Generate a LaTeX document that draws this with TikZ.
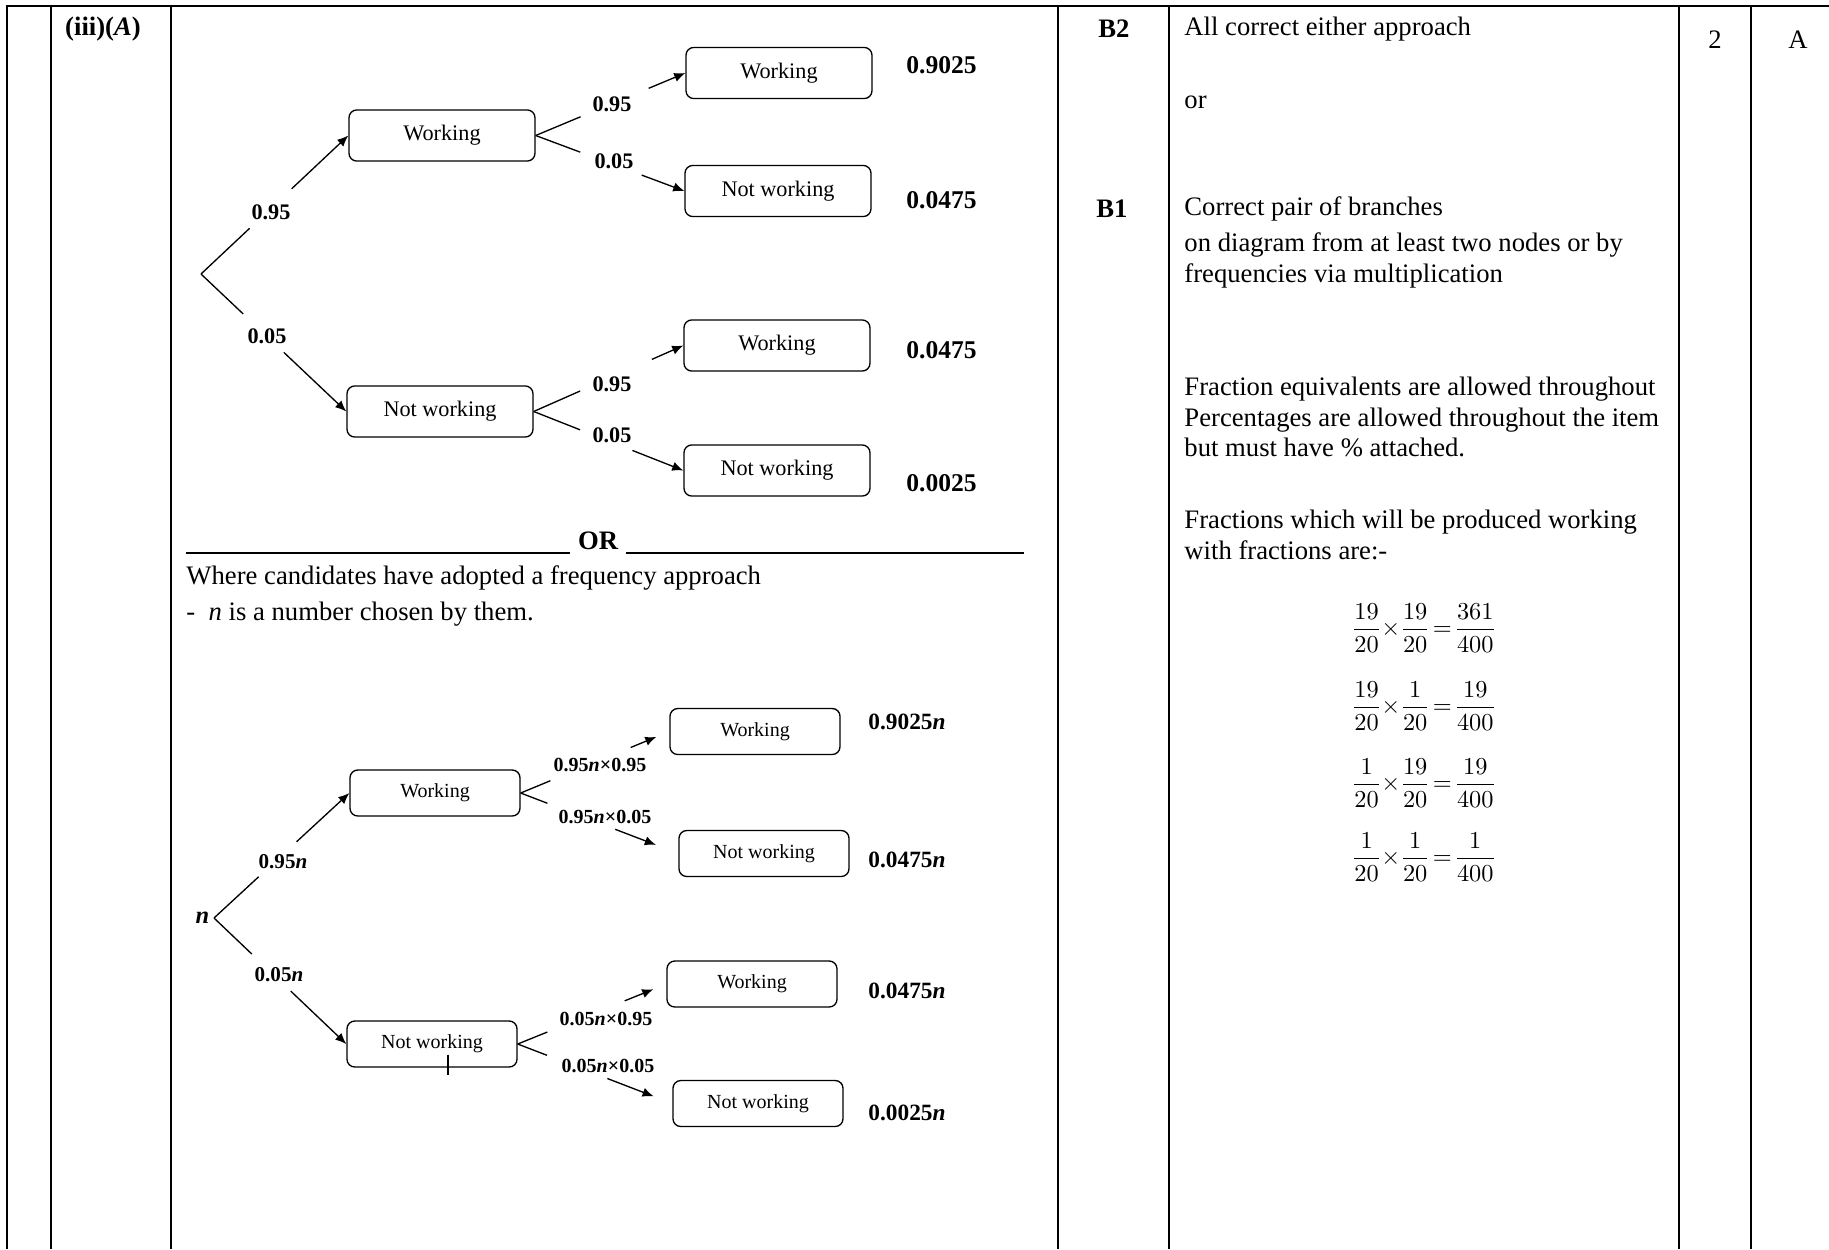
\documentclass[tikz,border=0pt]{standalone}
\usepackage{amsmath}
\usepackage{fontspec}
\setmainfont{Liberation Serif}
\usepackage{tikz}
\usetikzlibrary{arrows.meta,calc}

\begin{document}
\begin{tikzpicture}[
  x=0.45pt, y=-0.45pt,
  font=\fontsize{12}{13.8}\selectfont,
  rule/.style={line width=0.9pt},
  box/.style={draw, rounded corners=3.5pt, line width=0.6pt, minimum width=83.7pt, minimum height=23pt, inner sep=0pt, font=\fontsize{10}{12}\selectfont},
  sbox/.style={box, minimum width=76.5pt, minimum height=20.7pt, font=\fontsize{9}{11}\selectfont},
  prob/.style={inner sep=1pt, font=\fontsize{10}{12}\selectfont\bfseries},
  sprob/.style={inner sep=1pt, font=\fontsize{9}{11}\selectfont\bfseries},
  res/.style={anchor=west, inner sep=0pt, font=\fontsize{11.5}{13}\selectfont\bfseries},
  sres/.style={res, font=\fontsize{10.5}{12}\selectfont\bfseries},
  txt/.style={anchor=west, inner sep=0pt, align=left},
  br/.style={line width=0.6pt},
  arr/.style={br, -{Latex[length=5pt,width=4.2pt]}}
]
  \useasboundingbox (0,0) rectangle (1829,1249);

  % table rules
  \draw[rule] (6,6) -- (1829,6);
  \foreach \cx in {7,51,171,1058,1169,1679,1751}
    \draw[rule] (\cx,6) -- (\cx,1249);

  \node (part) at (103,29) {\textbf{(iii)(\textit{A})}};
  \node (b2) at (1114,29) {\textbf{B2}};
  \node (b1) at (1112,209) {\textbf{B1}};
  \node (mk) at (1715,40) {2};
  \node (ao) at (1798,40) {A};

  % guidance column
  \node[txt] (t1) at (1184,29) {All correct either approach};
  \node[txt] (t2) at (1184,102) {or};
  \node[txt] (t3) at (1184,209) {Correct pair of branches};
  \node[txt] (t4) at (1184,260.5) {on diagram from at least two nodes or by\\frequencies via multiplication};
  \node[txt] (t5) at (1184,417) {Fraction equivalents are allowed throughout\\Percentages are allowed throughout the item\\but must have \% attached.};
  \node[txt] (t6) at (1184,535) {Fractions which will be produced working\\with fractions are:-};
  \foreach \fa/\fb/\fc/\fy [count=\i] in {19/19/361/628, 19/1/19/706, 1/19/19/783, 1/1/1/857}
    \node[font=\fontsize{11}{13}\selectfont] (fr\i) at (1424,\fy)
      {$\displaystyle\frac{\fa}{20}{\times}\frac{\fb}{20}\mkern2mu{=}\mkern2mu\frac{\fc}{400}$};

  % probability tree
  \coordinate (r1) at (201,274);
  \node[box] (w1) at (442,135.5) {Working};
  \node[box] (n1) at (440,411.5) {Not working};
  \node[box] (w2) at (779,73) {Working};
  \node[box] (n2) at (778,191) {Not working};
  \node[box] (w3) at (777,345.5) {Working};
  \node[box] (n3) at (777,470.5) {Not working};

  \node[prob] (p1) at (271,212) {0.95};
  \node[prob] (p2) at (267,336) {0.05};
  \node[prob] (p3) at (612,104) {0.95};
  \node[prob] (p4) at (614,161) {0.05};
  \node[prob] (p5) at (612,384) {0.95};
  \node[prob] (p6) at (612,435) {0.05};

  \node[res] (v1) at (906,65) {0.9025};
  \node[res] (v2) at (906,200) {0.0475};
  \node[res] (v3) at (906,350) {0.0475};
  \node[res] (v4) at (906,483) {0.0025};

  % OR rule and frequency text
  \node[font=\fontsize{12}{14}\selectfont\bfseries] (or) at (598,541) {OR};
  \coordinate (orl) at (186,553);
  \coordinate (orr) at (1024,553);
  \draw[br] (orl) -- (orl -| or.west);
  \draw[br] (or.east |- orr) -- (orr);
  \node[txt] (q1) at (186,578) {Where candidates have adopted a frequency approach};
  \node[txt] (q2) at (186,614) {-\ \ \textit{n} is a number chosen by them.};

  % frequency tree
  \node[anchor=east, inner sep=1pt, font=\fontsize{11}{13}\selectfont\bfseries\itshape] (n0) at (212,918) {n};
  \coordinate (r2) at (214,918);
  \node[sbox] (w4) at (435,793) {Working};
  \node[sbox] (n4) at (432,1044) {Not working};
  \node[sbox] (w5) at (755,731.5) {Working\hspace{8pt}};
  \node[sbox] (n5) at (764,853.5) {Not working};
  \node[sbox] (w6) at (752,984) {Working\hspace{6pt}};
  \node[sbox] (n6) at (758,1103.5) {Not working};
  \draw[br] ([shift={(16,-13)}]n4.south) -- ++(0,20);

  \node[sprob, font=\fontsize{9.5}{11}\selectfont\bfseries] (p7) at (283,862) {0.95\textit{n}};
  \node[sprob, font=\fontsize{9.5}{11}\selectfont\bfseries] (p8) at (279,975) {0.05\textit{n}};
  \node[sprob] (p9) at (600,765) {0.95\textit{n}×0.95};
  \node[sprob] (p10) at (605,817) {0.95\textit{n}×0.05};
  \node[sprob] (p11) at (606,1019) {0.05\textit{n}×0.95};
  \node[sprob] (p12) at (608,1066) {0.05\textit{n}×0.05};

  \node[sres] (v5) at (868,722) {0.9025\textit{n}};
  \node[sres] (v6) at (868,860) {0.0475\textit{n}};
  \node[sres] (v7) at (868,991) {0.0475\textit{n}};
  \node[sres] (v8) at (868,1113) {0.0025\textit{n}};

  % branches: plain stub, gap for the label, then arrow
  \foreach \src/\dst/\ea/\eb/\sh in {
      r1/w1.west/0.33/0.615/0pt, r1/n1.west/0.29/0.57/0pt,
      w1.east/w2.west/0.30/0.755/0pt, w1.east/n2.west/0.30/0.713/0pt,
      n1.east/w3.west/0.31/0.79/0pt, n1.east/n3.west/0.31/0.66/0pt,
      r2/w4.west/0.33/0.61/0pt, r2/n4.west/0.286/0.58/0pt,
      w4.east/w5.west/0.2/0.74/6.3pt, w4.east/n5.west/0.17/0.6/10.8pt,
      n4.east/w6.west/0.2/0.72/6.3pt, n4.east/n6.west/0.19/0.58/9pt}
  {
    \draw[br] (\src) -- ($(\src)!\ea!(\dst)$);
    \draw[arr, shorten >=\sh] ($(\src)!\eb!(\dst)$) -- (\dst);
  }
\end{tikzpicture}
\end{document}
